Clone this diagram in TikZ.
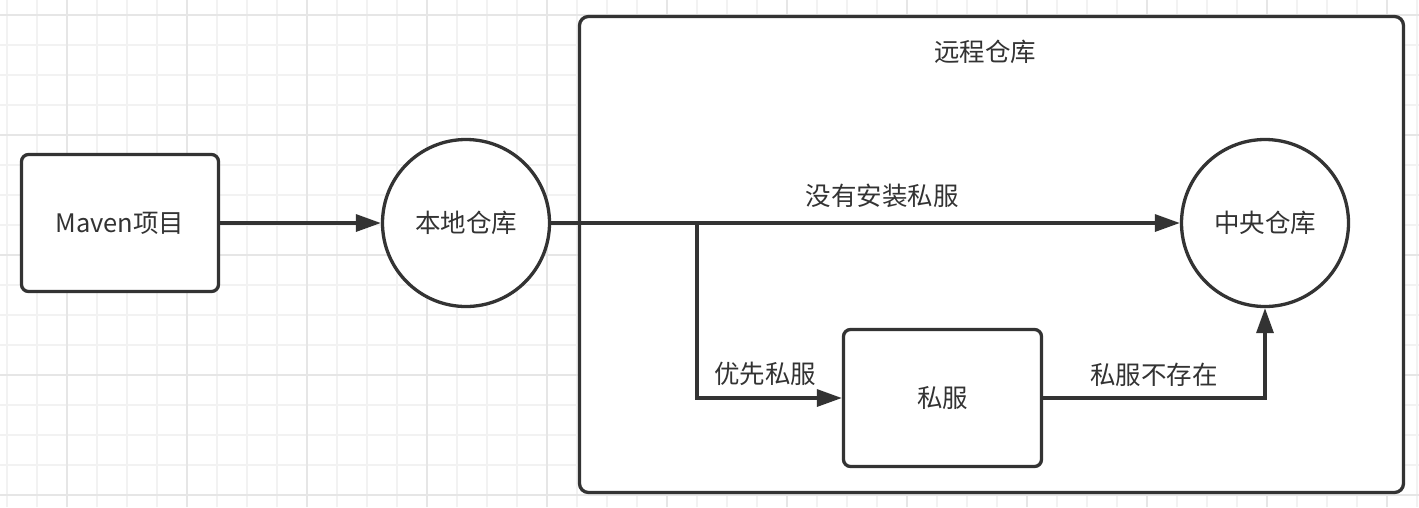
\documentclass[tikz,border=0pt]{standalone}
\usepackage{fontspec}
\setmainfont{Noto Sans CJK SC}
\usetikzlibrary{arrows.meta}
\definecolor{ink}{HTML}{333333}
\definecolor{gridminor}{HTML}{F2F2F2}
\definecolor{gridmajor}{HTML}{E6E6E6}
\tikzset{
  boxnode/.style={draw=ink, line width=3.3pt, fill=white, rounded corners=7pt, inner sep=0pt, text=ink},
  circnode/.style={draw=ink, line width=3.3pt, fill=white, circle, minimum size=167pt, inner sep=0pt, text=ink},
  conn/.style={draw=ink, line width=3.3pt, -{Triangle[length=25pt,width=17pt]}},
  lbl/.style={text=ink, inner sep=0pt},
  every node/.style={font=\fontsize{25.5}{30}\selectfont}
}
\begin{document}
\begin{tikzpicture}[x=1pt,y=-1pt]
\useasboundingbox[fill=white] (0,0) rectangle (1419,507);
% grid
\foreach \i in {0,...,47} {
  \draw[gridminor, line width=1.5pt] (7+30*\i,0) -- (7+30*\i,507);
}
\foreach \j in {0,...,16} {
  \draw[gridminor, line width=1.5pt] (0,15+30*\j) -- (1419,15+30*\j);
}
\foreach \i in {0,...,11} {
  \draw[gridmajor, line width=1.5pt] (67+120*\i,0) -- (67+120*\i,507);
}
\foreach \j in {0,...,4} {
  \draw[gridmajor, line width=1.5pt] (0,15+120*\j) -- (1419,15+120*\j);
}
% remote box
\node[boxnode, rounded corners=9pt, minimum width=824pt, minimum height=476pt] (remote) at (991.5,254.5) {};
\node[lbl] (remotelbl) at (985,52) {远程仓库};
% nodes
\node[boxnode, minimum width=197pt, minimum height=137pt] (maven) at (120,223) {Maven项目};
\node[circnode] (local) at (466,223) {本地仓库};
\node[circnode] (central) at (1265,223) {中央仓库};
\node[boxnode, minimum width=198pt, minimum height=137pt] (pf) at (942.5,398) {私服};
% connectors
\draw[conn] (maven) -- (local);
\draw[conn] (local) -- (central);
\coordinate (br) at (697,223);
\draw[conn] (br) |- (pf.west);
\draw[conn] (pf.east) -| (central.south);
% labels
\node[lbl] (l1) at (882,196) {没有安装私服};
\node[lbl] (l2) at (765,374) {优先私服};
\node[lbl] (l3) at (1154,375) {私服不存在};
\end{tikzpicture}
\end{document}
